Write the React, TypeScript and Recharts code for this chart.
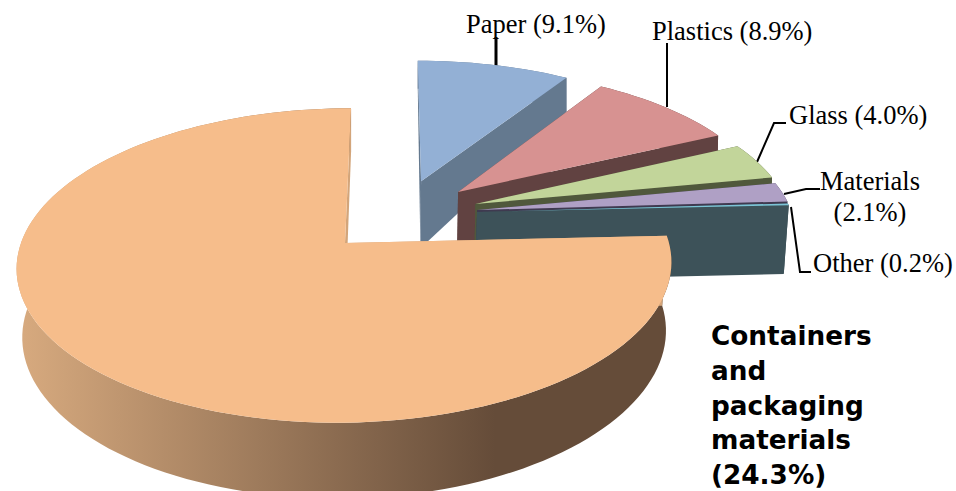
import { PieChart, Pie } from 'recharts';

// Shares of the waste stream, percent by volume
const categories = ['Paper', 'Plastics', 'Glass', 'Materials', 'Other', 'Non-packaging materials'];
const values = [9.1, 8.9, 4.0, 2.1, 0.2, 75.9];
const packagingTitle = ['Containers', 'and', 'packaging', 'materials', '(24.3%)'];

// How far each slice is pulled out of the pie, in units of the radius
const explodeX = [0.24, 0.359, 0.412, 0.416, 0.415, 0];
const explodeY = [0.425, 0.348, 0.263, 0.221, 0.207, 0];

const topColors = ['#93b0d5', '#d79291', '#c2d59a', '#afa0c5', '#7cc4d6', '#f6bd8b'];
const sideColors = ['#64798f', '#614241', '#50583c', '#3f3a50', '#3d5259', '#d3a57a'];

const data = categories.map((name, i) => ({ name, value: values[i] }));

const SERIF = '"Liberation Serif", serif';
const LABEL_SIZE = 26.5;

// Perspective of the tilted disc: y squash, foreshortening, slight lean
const PITCH = 154;
const FORESHORTEN = 0.143;
const LEAN = 6.9;

const RAD = Math.PI / 180;

function project(cx: number, cy: number, r: number, ux: number, uy: number, lower: boolean) {
  const w = 1 + FORESHORTEN * uy;
  const x = (r * ux + LEAN * uy) / w;
  const y = (PITCH * uy) / w;
  if (!lower) return [cx + x, cy - y];
  // the underside sits further from the camera, so it is narrower and its drop shrinks toward the back
  const shrink = Math.min(1, 0.985 + 0.015 * uy);
  const drop = uy >= 0.4 ? 68 - 39 * (uy - 0.4) : 68 + 5.5 * (0.4 - uy);
  return [cx + x * shrink, cy - y + drop];
}

const toPath = (pts: number[][]) =>
  'M' + pts.map((p) => `${p[0].toFixed(2)},${p[1].toFixed(2)}`).join('L') + 'Z';

function Slice3D(props: any) {
  const { cx, cy, outerRadius, startAngle, endAngle } = props;
  const name = props.name ?? props.payload?.name;
  const i = categories.indexOf(name);
  const ox = explodeX[i];
  const oy = explodeY[i];

  const rim = (lower: boolean) => {
    const pts: number[][] = [];
    const steps = Math.max(2, Math.ceil(Math.abs(endAngle - startAngle) / 2));
    for (let s = 0; s <= steps; s++) {
      const a = (startAngle + ((endAngle - startAngle) * s) / steps) * RAD;
      pts.push(project(cx, cy, outerRadius, ox + Math.cos(a), oy + Math.sin(a), lower));
    }
    return pts;
  };
  const topRim = rim(false);
  const lowRim = rim(true);
  const apexTop = project(cx, cy, outerRadius, ox, oy, false);
  const apexLow = project(cx, cy, outerRadius, ox, oy, true);
  const last = topRim.length - 1;
  const isMain = i === categories.length - 1;

  return (
    <g>
      <path d={toPath([...topRim, ...[...lowRim].reverse()])} fill={isMain ? 'url(#mainSide)' : sideColors[i]} />
      <path d={toPath([apexTop, topRim[0], lowRim[0], apexLow])} fill={sideColors[i]} />
      <path d={toPath([apexTop, topRim[last], lowRim[last], apexLow])} fill={sideColors[i]} />
      <path d={toPath([apexTop, ...topRim])} fill={topColors[i]} />
    </g>
  );
}

const pct = (i: number) => `${categories[i]} (${values[i].toFixed(1)}%)`;

export default function App() {
  return (
    <div style={{ position: 'absolute', left: 0, top: 0, width: 956, height: 491, overflow: 'hidden', background: '#fff' }}>
      <PieChart width={956} height={491} margin={{ top: 0, right: 0, bottom: 0, left: 0 }}>
        <defs>
          <linearGradient id="mainSide" gradientUnits="userSpaceOnUse" x1={24} y1={0} x2={495} y2={0}>
            <stop offset="0%" stopColor="#d6a97e" />
            <stop offset="100%" stopColor="#654c39" />
          </linearGradient>
        </defs>
        <Pie
          data={data}
          dataKey="value"
          nameKey="name"
          cx={345}
          cy={243}
          innerRadius={0}
          outerRadius={324}
          startAngle={90}
          endAngle={-270}
          stroke="none"
          shape={Slice3D}
          isAnimationActive={false}
        />
        <g fill="none" stroke="#000" strokeWidth={2}>
          <path d="M496,37V66" strokeWidth={3} />
          <path d="M667,43V107" />
          <path d="M757,162L774,123H786" />
          <path d="M784,194L806,189H820" />
          <path d="M791,207L800,272H811" />
        </g>
        <g fontFamily={SERIF} fontSize={LABEL_SIZE} fill="#000">
          <text x={466} y={33}>{pct(0)}</text>
          <text x={652} y={40}>{pct(1)}</text>
          <text x={789} y={124}>{pct(2)}</text>
          <text x={870} y={190} textAnchor="middle">{categories[3]}</text>
          <text x={870} y={221} textAnchor="middle">{`(${values[3].toFixed(1)}%)`}</text>
          <text x={813} y={272}>{pct(4)}</text>
          <text x={98} y={317}>{categories[5]}</text>
          <text x={98} y={352}>{`(${values[5].toFixed(1)}%)`}</text>
        </g>
        <g fontFamily='"DejaVu Sans", sans-serif' fontWeight="bold" fontSize={26.3} fill="#000">
          {packagingTitle.map((line, i) => (
            <text key={line} x={711} y={345 + i * 34.8}>{line}</text>
          ))}
        </g>
      </PieChart>
    </div>
  );
}
